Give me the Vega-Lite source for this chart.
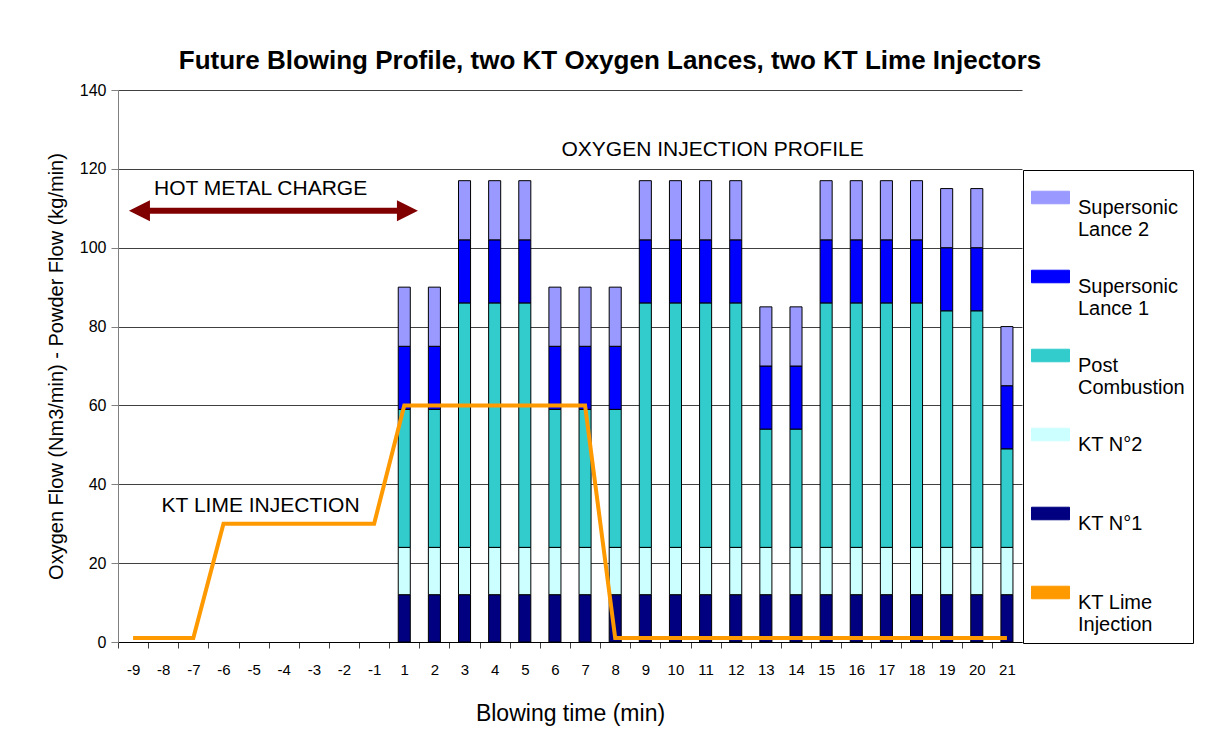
{
  "$schema": "https://vega.github.io/schema/vega-lite/v6.json",
  "width": 904,
  "height": 552,
  "autosize": {"type": "none"},
  "padding": {"left": 118, "top": 90, "right": 186, "bottom": 100},
  "background": "white",
  "title": {
    "text": "Future Blowing Profile, two KT Oxygen Lances, two KT Lime Injectors",
    "fontSize": 26, "fontWeight": "bold", "font": "Liberation Sans", "color": "black",
    "anchor": "middle", "dx": 40, "offset": -13, "baseline": "alphabetic"
  },
  "config": {"font": "Liberation Sans", "view": {"stroke": null}},
  "datasets": {
    "oxygen": [
      {"t": 1, "KT N°1": 12, "KT N°2": 12, "Post Combustion": 35, "Supersonic Lance 1": 16, "Supersonic Lance 2": 15},
      {"t": 2, "KT N°1": 12, "KT N°2": 12, "Post Combustion": 35, "Supersonic Lance 1": 16, "Supersonic Lance 2": 15},
      {"t": 3, "KT N°1": 12, "KT N°2": 12, "Post Combustion": 62, "Supersonic Lance 1": 16, "Supersonic Lance 2": 15},
      {"t": 4, "KT N°1": 12, "KT N°2": 12, "Post Combustion": 62, "Supersonic Lance 1": 16, "Supersonic Lance 2": 15},
      {"t": 5, "KT N°1": 12, "KT N°2": 12, "Post Combustion": 62, "Supersonic Lance 1": 16, "Supersonic Lance 2": 15},
      {"t": 6, "KT N°1": 12, "KT N°2": 12, "Post Combustion": 35, "Supersonic Lance 1": 16, "Supersonic Lance 2": 15},
      {"t": 7, "KT N°1": 12, "KT N°2": 12, "Post Combustion": 35, "Supersonic Lance 1": 16, "Supersonic Lance 2": 15},
      {"t": 8, "KT N°1": 12, "KT N°2": 12, "Post Combustion": 35, "Supersonic Lance 1": 16, "Supersonic Lance 2": 15},
      {"t": 9, "KT N°1": 12, "KT N°2": 12, "Post Combustion": 62, "Supersonic Lance 1": 16, "Supersonic Lance 2": 15},
      {"t": 10, "KT N°1": 12, "KT N°2": 12, "Post Combustion": 62, "Supersonic Lance 1": 16, "Supersonic Lance 2": 15},
      {"t": 11, "KT N°1": 12, "KT N°2": 12, "Post Combustion": 62, "Supersonic Lance 1": 16, "Supersonic Lance 2": 15},
      {"t": 12, "KT N°1": 12, "KT N°2": 12, "Post Combustion": 62, "Supersonic Lance 1": 16, "Supersonic Lance 2": 15},
      {"t": 13, "KT N°1": 12, "KT N°2": 12, "Post Combustion": 30, "Supersonic Lance 1": 16, "Supersonic Lance 2": 15},
      {"t": 14, "KT N°1": 12, "KT N°2": 12, "Post Combustion": 30, "Supersonic Lance 1": 16, "Supersonic Lance 2": 15},
      {"t": 15, "KT N°1": 12, "KT N°2": 12, "Post Combustion": 62, "Supersonic Lance 1": 16, "Supersonic Lance 2": 15},
      {"t": 16, "KT N°1": 12, "KT N°2": 12, "Post Combustion": 62, "Supersonic Lance 1": 16, "Supersonic Lance 2": 15},
      {"t": 17, "KT N°1": 12, "KT N°2": 12, "Post Combustion": 62, "Supersonic Lance 1": 16, "Supersonic Lance 2": 15},
      {"t": 18, "KT N°1": 12, "KT N°2": 12, "Post Combustion": 62, "Supersonic Lance 1": 16, "Supersonic Lance 2": 15},
      {"t": 19, "KT N°1": 12, "KT N°2": 12, "Post Combustion": 60, "Supersonic Lance 1": 16, "Supersonic Lance 2": 15},
      {"t": 20, "KT N°1": 12, "KT N°2": 12, "Post Combustion": 60, "Supersonic Lance 1": 16, "Supersonic Lance 2": 15},
      {"t": 21, "KT N°1": 12, "KT N°2": 12, "Post Combustion": 25, "Supersonic Lance 1": 16, "Supersonic Lance 2": 15}
    ],
    "lime": [
      {"t": -9, "v": 1, "series": "KT Lime Injection"},
      {"t": -8, "v": 1, "series": "KT Lime Injection"},
      {"t": -7, "v": 1, "series": "KT Lime Injection"},
      {"t": -6, "v": 30, "series": "KT Lime Injection"},
      {"t": -5, "v": 30, "series": "KT Lime Injection"},
      {"t": -4, "v": 30, "series": "KT Lime Injection"},
      {"t": -3, "v": 30, "series": "KT Lime Injection"},
      {"t": -2, "v": 30, "series": "KT Lime Injection"},
      {"t": -1, "v": 30, "series": "KT Lime Injection"},
      {"t": 1, "v": 60, "series": "KT Lime Injection"},
      {"t": 2, "v": 60, "series": "KT Lime Injection"},
      {"t": 3, "v": 60, "series": "KT Lime Injection"},
      {"t": 4, "v": 60, "series": "KT Lime Injection"},
      {"t": 5, "v": 60, "series": "KT Lime Injection"},
      {"t": 6, "v": 60, "series": "KT Lime Injection"},
      {"t": 7, "v": 60, "series": "KT Lime Injection"},
      {"t": 8, "v": 1, "series": "KT Lime Injection"},
      {"t": 9, "v": 1, "series": "KT Lime Injection"},
      {"t": 10, "v": 1, "series": "KT Lime Injection"},
      {"t": 11, "v": 1, "series": "KT Lime Injection"},
      {"t": 12, "v": 1, "series": "KT Lime Injection"},
      {"t": 13, "v": 1, "series": "KT Lime Injection"},
      {"t": 14, "v": 1, "series": "KT Lime Injection"},
      {"t": 15, "v": 1, "series": "KT Lime Injection"},
      {"t": 16, "v": 1, "series": "KT Lime Injection"},
      {"t": 17, "v": 1, "series": "KT Lime Injection"},
      {"t": 18, "v": 1, "series": "KT Lime Injection"},
      {"t": 19, "v": 1, "series": "KT Lime Injection"},
      {"t": 20, "v": 1, "series": "KT Lime Injection"},
      {"t": 21, "v": 1, "series": "KT Lime Injection"}
    ],
    "notes": [
      {"t": 11, "v": 124.8, "label": "OXYGEN INJECTION PROFILE"},
      {"t": -5, "v": 114.8, "label": "HOT METAL CHARGE"},
      {"t": -5, "v": 34.6, "label": "KT LIME INJECTION"}
    ],
    "arrow": [
      {"t": -9, "t2": 1, "v": 109.4}
    ]
  },
  "layer": [
    {
      "data": {"name": "oxygen"},
      "transform": [
        {"fold": ["KT N°1", "KT N°2", "Post Combustion", "Supersonic Lance 1", "Supersonic Lance 2"], "as": ["series", "v"]},
        {"calculate": "indexof(['KT N°1','KT N°2','Post Combustion','Supersonic Lance 1','Supersonic Lance 2'], datum.series)", "as": "ord"}
      ],
      "mark": {"type": "bar", "stroke": "black", "strokeWidth": 1},
      "encoding": {
        "x": {
          "field": "t", "type": "ordinal", "title": "Blowing time (min)",
          "scale": {"domain": [-9, -8, -7, -6, -5, -4, -3, -2, -1, 1, 2, 3, 4, 5, 6, 7, 8, 9, 10, 11, 12, 13, 14, 15, 16, 17, 18, 19, 20, 21], "paddingInner": 0.6, "paddingOuter": 0.3},
          "axis": {
            "labelAngle": 0, "labelFontSize": 15, "labelColor": "black", "labelPadding": 14,
            "tickSize": 6, "tickColor": "#404040", "domainColor": "black",
            "tickOffset": -15.07, "labelOffset": 15.07, "grid": false,
            "titleFontSize": 23, "titleFontWeight": "normal", "titleColor": "black", "titlePadding": 25
          }
        },
        "y": {
          "field": "v", "type": "quantitative", "stack": "zero",
          "title": "Oxygen Flow (Nm3/min) - Powder Flow (kg/min)",
          "scale": {"domain": [0, 140], "nice": false},
          "axis": {
            "values": [0, 20, 40, 60, 80, 100, 120, 140],
            "labelFontSize": 16, "labelColor": "black", "labelPadding": 5,
            "tickSize": 7, "tickColor": "#808080", "domainColor": "#808080",
            "gridColor": "#404040", "gridWidth": 1,
            "titleFontSize": 20, "titleFontWeight": "normal", "titleColor": "black", "titlePadding": 13
          }
        },
        "color": {
          "field": "series", "type": "nominal",
          "scale": {
            "domain": ["Supersonic Lance 2", "Supersonic Lance 1", "Post Combustion", "KT N°2", "KT N°1", "KT Lime Injection"],
            "range": ["#9999FF", "#0000FF", "#33CCCC", "#CCFFFF", "#000080", "#FF9900"]
          },
          "legend": {
            "orient": "none", "legendX": 905, "legendY": 80, "title": null,
            "strokeColor": "black", "fillColor": "white", "padding": 8,
            "rowPadding": 17, "labelFontSize": 20, "labelColor": "black", "labelFont": "Liberation Sans",
            "labelBaseline": "top", "labelOffset": 8, "labelLimit": 300,
            "symbolSize": 1444, "symbolType": "M-1,-0.33H1V0.33H-1Z",
            "symbolStrokeColor": "black", "symbolStrokeWidth": 1, "symbolOpacity": 1,
            "labelExpr": "indexof(datum.label,'KT N')==0 ? [datum.label,''] : datum.label=='Post Combustion' ? ['Post','Combustion'] : datum.label=='KT Lime Injection' ? ['KT Lime','Injection'] : ['Supersonic', replace(datum.label,'Supersonic ','')]"
          }
        },
        "order": {"field": "ord", "type": "quantitative"}
      }
    },
    {
      "data": {"name": "lime"},
      "mark": {"type": "line", "strokeWidth": 4},
      "encoding": {
        "x": {"field": "t", "type": "ordinal", "title": "Blowing time (min)"},
        "y": {"field": "v", "type": "quantitative", "title": "Oxygen Flow (Nm3/min) - Powder Flow (kg/min)"},
        "color": {"field": "series", "type": "nominal", "legend": null}
      }
    },
    {
      "data": {"name": "notes"},
      "mark": {"type": "text", "fontSize": 21, "align": "center", "baseline": "middle", "dx": 7, "color": "black"},
      "encoding": {
        "x": {"field": "t", "type": "ordinal", "title": "Blowing time (min)"},
        "y": {"field": "v", "type": "quantitative", "title": "Oxygen Flow (Nm3/min) - Powder Flow (kg/min)"},
        "text": {"field": "label"}
      }
    },
    {
      "data": {"name": "arrow"},
      "mark": {"type": "rule", "color": "#800000", "strokeWidth": 6, "xOffset": 14, "x2Offset": -7},
      "encoding": {
        "x": {"field": "t", "type": "ordinal", "title": "Blowing time (min)"},
        "x2": {"field": "t2"},
        "y": {"field": "v", "type": "quantitative", "title": "Oxygen Flow (Nm3/min) - Powder Flow (kg/min)"}
      }
    },
    {
      "data": {"name": "arrow"},
      "mark": {"type": "point", "shape": "M-1,0L1,-1L1,1Z", "filled": true, "color": "#800000", "opacity": 1, "size": 441, "xOffset": 6.4},
      "encoding": {
        "x": {"field": "t", "type": "ordinal", "title": "Blowing time (min)"},
        "y": {"field": "v", "type": "quantitative", "title": "Oxygen Flow (Nm3/min) - Powder Flow (kg/min)"}
      }
    },
    {
      "data": {"name": "arrow"},
      "mark": {"type": "point", "shape": "M1,0L-1,-1L-1,1Z", "filled": true, "color": "#800000", "opacity": 1, "size": 441, "xOffset": 3.2},
      "encoding": {
        "x": {"field": "t2", "type": "ordinal", "title": "Blowing time (min)"},
        "y": {"field": "v", "type": "quantitative", "title": "Oxygen Flow (Nm3/min) - Powder Flow (kg/min)"}
      }
    }
  ]
}
